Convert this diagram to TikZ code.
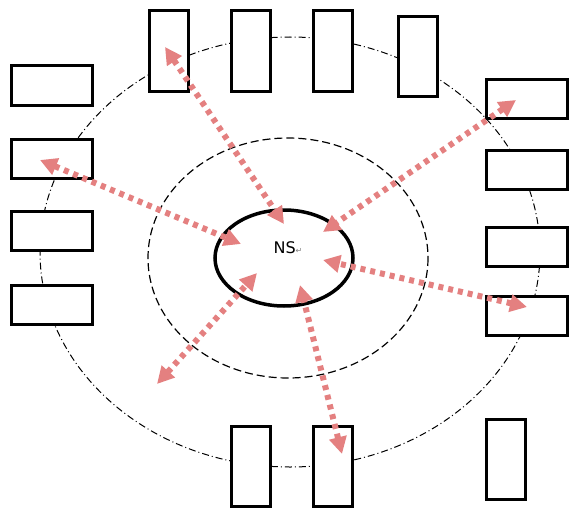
\documentclass[tikz,border=0pt]{standalone}
\usepackage{fontspec}
\setmainfont{DejaVu Sans}
\usetikzlibrary{arrows.meta,positioning,shapes.geometric}
\definecolor{linkred}{RGB}{228,128,128}

\begin{document}
\begin{tikzpicture}[x=1pt,y=-1pt,
wide/.style={rectangle,draw,fill=white,line width=3pt,minimum width=81pt,minimum height=39pt,inner sep=0pt},
tall/.style={rectangle,draw,fill=white,line width=3pt,minimum width=39pt,minimum height=80pt,inner sep=0pt},
link/.style={draw=linkred,line width=6pt,dash pattern=on 5pt off 5pt,
  {Triangle[length=17pt,width=17pt,fill=linkred]}-{Triangle[length=17pt,width=17pt,fill=linkred]}}]
\useasboundingbox (0,0) rectangle (570,511);
% outer ring
\draw[line width=1pt,dash pattern=on 7pt off 3pt on 1pt off 3pt] (290,252) ellipse [x radius=250, y radius=215];
% boxes
\node[wide] (L1) at (52,85.5) {};
\node[wide] (L2) at (52,159) {};
\node[wide] (L3) at (52,230.5) {};
\node[wide] (L4) at (52,304.5) {};
\node[tall] (T1) at (168.5,51) {};
\node[tall] (T2) at (250.5,51) {};
\node[tall] (T3) at (332.5,51) {};
\node[tall] (T4) at (418,56.5) {};
\node[wide] (R1) at (527,98.5) {};
\node[wide] (R2) at (527,170) {};
\node[wide] (R3) at (527,246.5) {};
\node[wide] (R4) at (527,315.5) {};
\node[tall] (B1) at (250.5,466.5) {};
\node[tall] (B2) at (332.5,466.5) {};
\node[tall] (B3) at (505.5,459.5) {};
% inner rings
\draw[line width=1.2pt,dash pattern=on 8pt off 4pt] (288,258) ellipse [x radius=140, y radius=120];
\node[ellipse,draw,line width=3.5pt,minimum width=138pt,minimum height=96pt] (NS) at (284,258) {};
\node[inner sep=0pt] (NSlabel) at (288,247.5) {\fontsize{16}{19}\selectfont NS{\color{gray}\fontsize{8}{8}\selectfont ↵}};
% link ends
\coordinate (P1) at (165,47);  \coordinate (Q1) at (284,224);
\coordinate (P2) at (40,160);  \coordinate (Q2) at (241,244);
\coordinate (P3) at (516,100); \coordinate (Q3) at (323,232);
\coordinate (P4) at (527,307); \coordinate (Q4) at (323,260);
\coordinate (P5) at (157,384); \coordinate (Q5) at (257,273);
\coordinate (P6) at (342,454); \coordinate (Q6) at (300,285);
\draw[link] (P1)--(Q1);
\draw[link] (P2)--(Q2);
\draw[link] (P3)--(Q3);
\draw[link] (P4)--(Q4);
\draw[link] (P5)--(Q5);
\draw[link] (P6)--(Q6);
\end{tikzpicture}
\end{document}
